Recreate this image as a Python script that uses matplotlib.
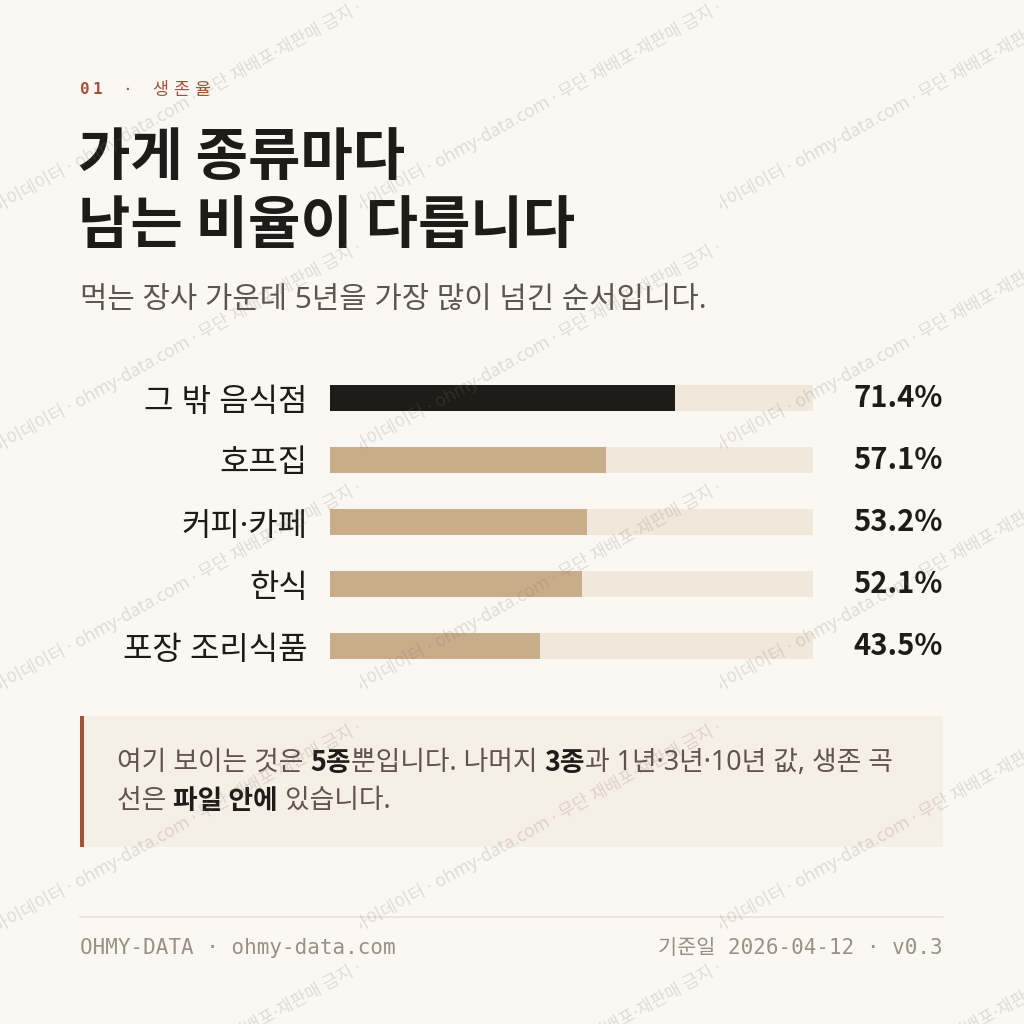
import matplotlib
matplotlib.use("Agg")
import matplotlib.pyplot as plt
from matplotlib.transforms import Bbox, blended_transform_factory
from matplotlib.patches import Rectangle

# data
categories = ["그 밖 음식점", "호프집", "커피·카페", "한식", "포장 조리식품"]
rates = [71.4, 57.1, 53.2, 52.1, 43.5]
value_labels = ["71.4%", "57.1%", "53.2%", "52.1%", "43.5%"]

title_lines = ["가게 종류마다", "남는 비율이 다릅니다"]
subtitle = "먹는 장사 가운데 5년을 가장 많이 넘긴 순서입니다."
note_lines = [
    [("여기 보이는 것은 ", False), ("5종", True), ("뿐입니다. 나머지 ", False),
     ("3종", True), ("과 1년·3년·10년 값, 생존 곡", False)],
    [("선은 ", False), ("파일 안에", True), (" 있습니다.", False)],
]
footer_left = "OHMY-DATA · ohmy-data.com"
footer_right = "기준일 2026-04-12 · v0.3"
watermark = "마이데이터 · ohmy-data.com · 무단 재배포·재판매 금지 · 표본 인용 시 출처 표기"

BG = "#fbf8f3"
INK = "#1f1b18"
SUB = "#5d554e"
RUST = "#a5523a"
TAN = "#c9ac89"
TRACK = "#f1e8dc"
NOTE_BG = "#f6efe6"
GREY = "#9b9085"
RULE = "#e8e1d6"

KR = ["Noto Sans", "Noto Sans CJK KR", "DejaVu Sans"]
KR_BOLD = ["Noto Sans CJK KR", "DejaVu Sans"]
MONO = ["DejaVu Sans Mono", "Noto Sans CJK KR"]

plt.rcParams["font.family"] = KR

fig = plt.figure(figsize=(10.24, 10.24), dpi=100, facecolor=BG)
renderer = fig.canvas.get_renderer()

ax0 = fig.add_axes([0, 0, 1, 1])
ax0.set_xlim(0, 1024)
ax0.set_ylim(1024, 0)
ax0.axis("off")
ax0.set_facecolor(BG)


def text_width(t):
    return t.get_window_extent(renderer).width


def spaced(x, y, s, track, **kw):
    for ch in s:
        t = ax0.text(x, y, ch, **kw)
        x += text_width(t) + track


# kicker
spaced(80, 90, "01", 2.5, fontsize=11.5, fontweight="bold", color=RUST,
       family=MONO, va="center")
ax0.text(122, 90, "·", fontsize=11.5, color=RUST, family=MONO, va="center")
spaced(152, 90, "생존율", 5, fontsize=12.5, color=RUST, va="center")

# title and subtitle
ax0.text(78, 158, title_lines[0], fontsize=41, fontweight="bold", color=INK,
         family=KR_BOLD, va="center")
ax0.text(78, 226, title_lines[1], fontsize=41, fontweight="bold", color=INK,
         family=KR_BOLD, va="center")
ax0.text(80, 301, subtitle, fontsize=21.4, color=SUB, va="center")

# callout
ax0.add_patch(Rectangle((80, 716), 863, 131, facecolor=NOTE_BG, edgecolor="none"))
ax0.add_patch(Rectangle((80, 716), 4, 131, facecolor=RUST, edgecolor="none"))
for row, segs in enumerate(note_lines):
    x = 117
    y = 763 + row * 38
    for s, bold in segs:
        if bold:
            t = ax0.text(x, y, s, fontsize=19.3, va="center", fontweight="bold",
                         family=KR_BOLD, color=INK)
        else:
            t = ax0.text(x, y, s, fontsize=19.3, va="center", color=SUB)
        x += text_width(t)

# footer
ax0.plot([80, 943], [917, 917], color=RULE, lw=1.2)
ax0.text(80, 948, footer_left, fontsize=15, color=GREY, family=MONO, va="center")
ax0.text(943, 948, footer_right, fontsize=15, color=GREY, family=MONO,
         va="center", ha="right")

# bars
ax = fig.add_axes([330 / 1024, 1 - 677 / 1024, 483 / 1024, 310 / 1024])
ax.set_facecolor("none")
ypos = list(range(len(categories)))
ax.barh(ypos, [100] * len(rates), height=0.42, color=TRACK)
colors = [INK] + [TAN] * (len(rates) - 1)
ax.barh(ypos, rates, height=0.42, color=colors)
ax.set_xlim(0, 100)
ax.set_ylim(len(categories) - 0.5, -0.5)
ax.set_yticks(ypos, categories, fontsize=23, color=INK)
ax.set_xticks([])
ax.tick_params(axis="y", length=0, pad=16)
for sp in ax.spines.values():
    sp.set_visible(False)
tr = blended_transform_factory(ax.transAxes, ax.transData)
for i, lab in enumerate(value_labels):
    ax.text(1 + 130 / 483, i, lab, transform=tr, ha="right", va="center",
            fontsize=21, fontweight="bold", family=KR_BOLD, color=INK)

# watermark tiles
axw = fig.add_axes([0, 0, 1, 1], zorder=10)
axw.set_xlim(0, 1024)
axw.set_ylim(1024, 0)
axw.axis("off")
axw.patch.set_alpha(0)
for tx in [0, 360, 720]:
    for ty in [-20 + 240 * k for k in range(5)]:
        t = axw.text(tx - 3, ty + 234, watermark, fontsize=12.5, color="#7d7266",
                     alpha=0.22, rotation=29, rotation_mode="anchor",
                     ha="left", va="baseline")
        t.set_clip_box(Bbox.from_extents(tx, 1024 - (ty + 240), tx + 360, 1024 - ty))
        t.set_clip_on(True)

fig.savefig("out.png", dpi=100, facecolor=BG)
